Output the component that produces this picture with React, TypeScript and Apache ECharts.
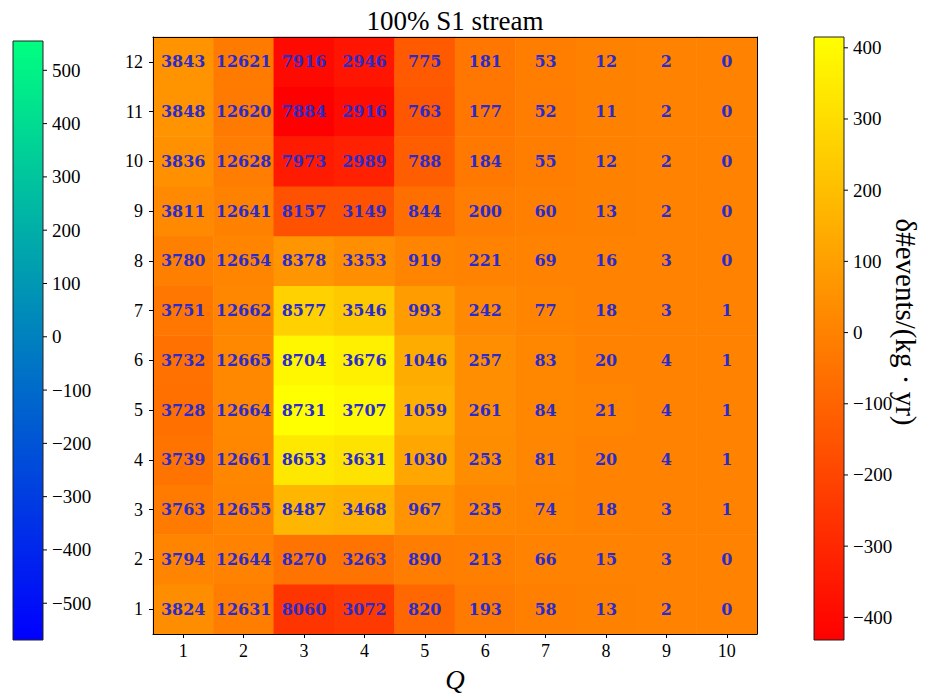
import React, { useEffect, useRef } from "react";
import * as echarts from "echarts";

const qLabels = ["1", "2", "3", "4", "5", "6", "7", "8", "9", "10"];
const rowLabels = ["1", "2", "3", "4", "5", "6", "7", "8", "9", "10", "11", "12"];

// counts per row (row 1 at the bottom), columns Q = 1..10
const row1 = [3824, 12631, 8060, 3072, 820, 193, 58, 13, 2, 0];
const row2 = [3794, 12644, 8270, 3263, 890, 213, 66, 15, 3, 0];
const row3 = [3763, 12655, 8487, 3468, 967, 235, 74, 18, 3, 1];
const row4 = [3739, 12661, 8653, 3631, 1030, 253, 81, 20, 4, 1];
const row5 = [3728, 12664, 8731, 3707, 1059, 261, 84, 21, 4, 1];
const row6 = [3732, 12665, 8704, 3676, 1046, 257, 83, 20, 4, 1];
const row7 = [3751, 12662, 8577, 3546, 993, 242, 77, 18, 3, 1];
const row8 = [3780, 12654, 8378, 3353, 919, 221, 69, 16, 3, 0];
const row9 = [3811, 12641, 8157, 3149, 844, 200, 60, 13, 2, 0];
const row10 = [3836, 12628, 7973, 2989, 788, 184, 55, 12, 2, 0];
const row11 = [3848, 12620, 7884, 2916, 763, 177, 52, 11, 2, 0];
const row12 = [3843, 12621, 7916, 2946, 775, 181, 53, 12, 2, 0];
const rows = [row1, row2, row3, row4, row5, row6, row7, row8, row9, row10, row11, row12];

const leftBarMin = -569;
const leftBarMax = 555;
const leftBarTicks = [-500, -400, -300, -200, -100, 0, 100, 200, 300, 400, 500];
const rightBarTicks = [-400, -300, -200, -100, 0, 100, 200, 300, 400];

const titleText = "100% S1 stream";
const xName = "Q";
const barName = "\u03b4#events/(kg \u00b7 yr)";

const SERIF = "'Liberation Serif', 'DejaVu Serif', serif";

const fmtMinus = (v: number) => (v < 0 ? "\u2212" + Math.abs(v) : String(v));

const barTickSeries = (axisIndex: number, ticks: number[]) => ({
  type: "scatter",
  xAxisIndex: axisIndex,
  yAxisIndex: axisIndex,
  clip: false,
  silent: true,
  data: ticks.map((v) => [1, v]),
  symbol: "rect",
  symbolSize: [4, 1],
  symbolOffset: [2, 0],
  itemStyle: { color: "#000", opacity: 1 },
  emphasis: { disabled: true },
  label: {
    show: true,
    position: "right",
    distance: 5,
    formatter: (p: any) => fmtMinus(p.value[1]),
    color: "#000",
    fontFamily: SERIF,
    fontSize: 19,
  },
  labelLayout: { hideOverlap: false },
});

export default function App() {
  const ref = useRef<HTMLDivElement>(null);
  useEffect(() => {
    if (!ref.current) return;
    const chart = echarts.init(ref.current, undefined, { renderer: "svg" });

    // colour = deviation from the column mean
    const colMeans = qLabels.map((_, c) => rows.reduce((s, r) => s + r[c], 0) / rows.length);
    const data: number[][] = [];
    rows.forEach((r, ri) => r.forEach((v, ci) => data.push([ci, ri, v - colMeans[ci], v])));
    const deltas = data.map((d) => d[2]);
    const dMin = Math.min(...deltas);
    const dMax = Math.max(...deltas);

    const tickStyle = { show: true, length: 4, lineStyle: { color: "#000", width: 1 } };
    const labelStyle = { color: "#000", fontFamily: SERIF, fontSize: 18 };
    const hiddenAxis = {
      axisLine: { show: false }, axisTick: { show: false },
      axisLabel: { show: false }, splitLine: { show: false },
    };

    chart.setOption({
      animation: false,
      backgroundColor: "#fff",
      grid: [
        { left: 153, top: 37, width: 604, height: 603, containLabel: false },
        {
          left: 13, top: 41, width: 30, height: 599, show: true,
          backgroundColor: new echarts.graphic.LinearGradient(0, 0, 0, 1, [
            { offset: 0, color: "#00ff80" },
            { offset: 1, color: "#0000ff" },
          ]),
          borderColor: "#222", borderWidth: 1,
        },
        {
          left: 814, top: 37, width: 30, height: 603, show: true,
          backgroundColor: new echarts.graphic.LinearGradient(0, 0, 0, 1, [
            { offset: 0, color: "#ffff00" },
            { offset: 1, color: "#ff0000" },
          ]),
          borderColor: "#222", borderWidth: 1,
        },
      ],
      xAxis: [
        {
          gridIndex: 0, type: "category", data: qLabels, position: "bottom", z: 10,
          axisLine: { show: true, lineStyle: { color: "#000", width: 1 } },
          axisTick: { ...tickStyle, alignWithLabel: true },
          axisLabel: { ...labelStyle, margin: 8 },
          splitLine: { show: false }, splitArea: { show: false },
          name: xName, nameLocation: "middle", nameGap: 32,
          nameTextStyle: { color: "#000", fontFamily: SERIF, fontSize: 27, fontStyle: "italic" },
        },
        { gridIndex: 1, type: "value", min: 0, max: 1, show: false },
        { gridIndex: 2, type: "value", min: 0, max: 1, show: false },
        {
          gridIndex: 0, type: "category", data: qLabels, position: "top", z: 10,
          axisLine: { show: true, lineStyle: { color: "#000", width: 1 } },
          axisTick: { show: false }, axisLabel: { show: false }, splitLine: { show: false },
        },
      ],
      yAxis: [
        {
          gridIndex: 0, type: "category", data: rowLabels, position: "left", z: 10,
          axisLine: { show: true, lineStyle: { color: "#000", width: 1 } },
          axisTick: { ...tickStyle, alignWithLabel: true },
          axisLabel: { ...labelStyle, margin: 10 },
          splitLine: { show: false }, splitArea: { show: false },
        },
        { gridIndex: 1, type: "value", min: leftBarMin, max: leftBarMax, ...hiddenAxis },
        { gridIndex: 2, type: "value", min: dMin, max: dMax, ...hiddenAxis },
        {
          gridIndex: 0, type: "category", data: rowLabels, position: "right", z: 10,
          axisLine: { show: true, lineStyle: { color: "#000", width: 1 } },
          axisTick: { show: false }, axisLabel: { show: false }, splitLine: { show: false },
        },
      ],
      visualMap: {
        show: false, type: "continuous", seriesIndex: 0, dimension: 2,
        min: dMin, max: dMax,
        inRange: { color: ["#ff0000", "#ffff00"] },
      },
      graphic: [
        {
          type: "text", x: 455, y: 21,
          style: {
            text: titleText, fill: "#000", font: `27px ${SERIF}`,
            align: "center", verticalAlign: "middle",
          },
        },
        {
          type: "text", x: 906, y: 322, rotation: -Math.PI / 2,
          style: {
            text: barName, fill: "#000", font: `29px ${SERIF}`,
            align: "center", verticalAlign: "middle",
          },
        },
      ],
      series: [
        {
          type: "heatmap", xAxisIndex: 0, yAxisIndex: 0, data,
          encode: { x: 0, y: 1 },
          itemStyle: { borderWidth: 0 },
          emphasis: { disabled: true },
          label: {
            show: true,
            formatter: (p: any) => String(p.value[3]),
            color: "#2b2bcc", fontFamily: "'DejaVu Serif', serif",
            fontWeight: "bold", fontSize: 16,
          },
        },
        barTickSeries(1, leftBarTicks),
        barTickSeries(2, rightBarTicks),
      ],
    });
    return () => chart.dispose();
  }, []);
  return (
    <div
      ref={ref}
      style={{ position: "fixed", left: 0, top: 0, width: 926, height: 698, background: "#fff" }}
    />
  );
}
